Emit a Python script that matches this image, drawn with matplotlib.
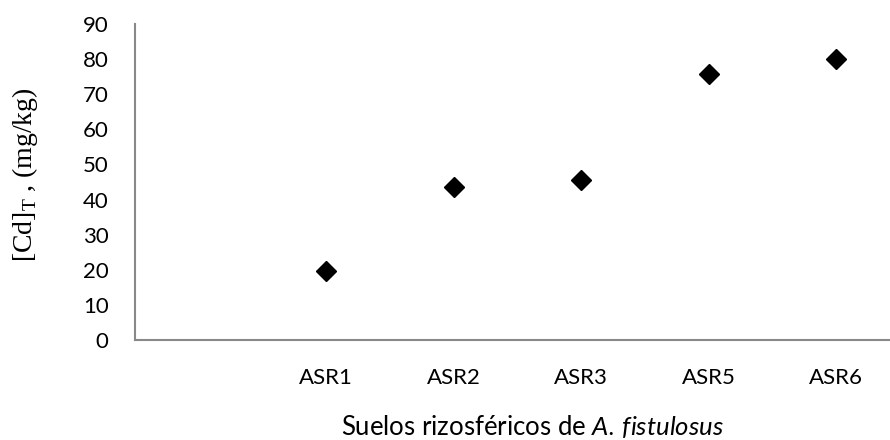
import matplotlib
matplotlib.use("Agg")
import matplotlib.pyplot as plt

# data (first category is empty in the original sheet)
categories = ["", "ASR1", "ASR2", "ASR3", "ASR5", "ASR6"]
cd_total = [None, 19.6, 43.5, 45.5, 75.8, 80.1]

plt.rcParams['font.family'] = ['Lato', 'DejaVu Sans']
plt.rcParams['mathtext.fontset'] = 'custom'
plt.rcParams['mathtext.rm'] = 'Liberation Serif'
plt.rcParams['mathtext.it'] = 'Lato:italic'

fig = plt.figure(figsize=(8.9, 4.4), dpi=100)
ax = fig.add_axes([135/890, 100/440, 755/890, 316/440])

pos = list(range(len(categories)))
xs = [p for p, v in zip(pos, cd_total) if v is not None]
ys = [v for v in cd_total if v is not None]
ax.plot(xs, ys, linestyle='none', marker='D', markersize=10, color='black')

ax.set_ylim(0, 90)
ax.set_yticks(range(0, 91, 10))
ax.set_xlim(-0.5, -0.5 + 755/127.5)
ax.set_xticks(pos)
ax.set_xticklabels(categories)

for s in ['top', 'right']:
    ax.spines[s].set_visible(False)
for s in ['left', 'bottom']:
    ax.spines[s].set_color('#898989')
    ax.spines[s].set_linewidth(1.5)

ax.tick_params(axis='y', length=0, pad=19, labelsize=16)
ax.tick_params(axis='x', length=0, pad=20, labelsize=16)

# axis titles placed like the Excel original
fig.text(532/890, 1 - 435/440, r'Suelos rizosféricos de $\mathit{A.\,fistulosus}$',
         fontsize=18.5, ha='center', va='baseline')
fig.text(25/890, 1 - 175/440, r'[Cd]$_\mathrm{T}$ , (mg/kg)', fontsize=20,
         family='Liberation Serif', rotation=90, ha='center', va='center')

fig.savefig('out.png', dpi=100)
